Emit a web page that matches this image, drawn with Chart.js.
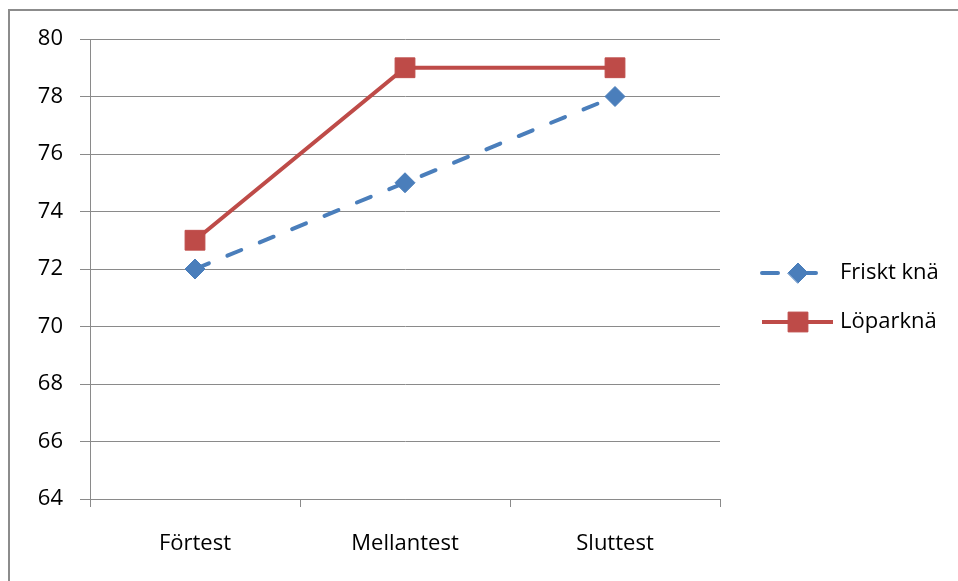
<!DOCTYPE html>
<html>
<head>
<meta charset="utf-8">
<script src="https://cdn.jsdelivr.net/npm/chart.js@4/dist/chart.umd.min.js"></script>
<style>
  html, body { margin: 0; padding: 0; background: #fff; }
  #wrap { position: relative; width: 958px; height: 581px; overflow: hidden; }
  #frame { position: absolute; left: 8px; top: 9px; width: 1200px; height: 1200px;
           border-left: 2px solid #8c8c8c; border-top: 2px solid #8c8c8c; box-sizing: border-box; }
  canvas { position: absolute; left: 0; top: 0; }
</style>
</head>
<body>
<div id="wrap">
  <div id="frame"></div>
  <canvas id="c" width="958" height="581"></canvas>
</div>
<script>
// Test phases and knee measurements
const categories = ['Förtest', 'Mellantest', 'Sluttest'];
const frisktKna = [72, 75, 78];
const loparkna = [73, 79, 79];
const seriesNames = ['Friskt knä', 'Löparknä'];
const yTicks = [64, 66, 68, 70, 72, 74, 76, 78, 80];

const FONT = { family: '"Open Sans", sans-serif', size: 22 };
const GRID = '#8a8a8a';

// Legend drawn beside the plot: line sample with its marker, then the series name
const sideLegend = {
  id: 'sideLegend',
  afterDraw(chart) {
    const ctx = chart.ctx;
    const rows = [273, 322];
    chart.data.datasets.forEach((ds, i) => {
      const y = rows[i];
      ctx.save();
      ctx.strokeStyle = ds.borderColor;
      ctx.lineWidth = ds.borderWidth;
      ctx.lineCap = ds.borderCapStyle || 'butt';
      ctx.setLineDash(ds.legendDash || []);
      ctx.beginPath();
      ctx.moveTo(762, y);
      ctx.lineTo(833, y);
      ctx.stroke();
      ctx.setLineDash([]);
      ctx.fillStyle = ds.pointBackgroundColor;
      ctx.strokeStyle = ds.pointBorderColor;
      ctx.lineWidth = 1;
      Chart.helpers.drawPoint(ctx, { pointStyle: ds.pointStyle, radius: ds.pointRadius, rotation: 0, borderWidth: 1 }, 798, y);
      ctx.fillStyle = '#000';
      ctx.font = FONT.size + 'px ' + FONT.family;
      ctx.textAlign = 'left';
      ctx.textBaseline = 'middle';
      ctx.fillText(ds.label, 840, y);
      ctx.restore();
    });
  }
};

new Chart(document.getElementById('c'), {
  type: 'line',
  data: {
    labels: categories,
    datasets: [
      {
        label: seriesNames[0],
        data: frisktKna,
        borderColor: '#4a7ebb',
        borderWidth: 4,
        borderDash: [15, 20],
        legendDash: [16, 22],
        borderCapStyle: 'round',
        pointStyle: 'rectRot',
        pointRadius: 10,
        pointBackgroundColor: '#4a7ebb',
        pointBorderColor: '#4a7ebb',
        pointBorderWidth: 1,
        tension: 0
      },
      {
        label: seriesNames[1],
        data: loparkna,
        borderColor: '#be4b48',
        borderWidth: 4,
        pointStyle: 'rect',
        pointRadius: 14,
        pointBackgroundColor: '#be4b48',
        pointBorderColor: '#be4b48',
        pointBorderWidth: 1,
        tension: 0
      }
    ]
  },
  options: {
    responsive: false,
    animation: false,
    layout: { padding: { left: 0, top: 39, right: 238, bottom: 0 } },
    plugins: { legend: { display: false }, tooltip: { enabled: false } },
    scales: {
      x: {
        offset: true,
        grid: { offset: true, drawOnChartArea: false, color: GRID, tickLength: 8, lineWidth: 1 },
        border: { color: GRID, width: 1 },
        ticks: { color: '#000', font: FONT, padding: 24, maxRotation: 0 },
        afterFit(s) { s.height = 82; }
      },
      y: {
        min: 64,
        max: 80,
        afterBuildTicks(s) { s.ticks = yTicks.map(v => ({ value: v })); },
        grid: { color: GRID, tickLength: 10, lineWidth: 1 },
        border: { color: GRID, width: 1 },
        ticks: { color: '#000', font: FONT, padding: 17 },
        afterFit(s) { s.width = 90; }
      }
    }
  },
  plugins: [sideLegend]
});
</script>
</body>
</html>
